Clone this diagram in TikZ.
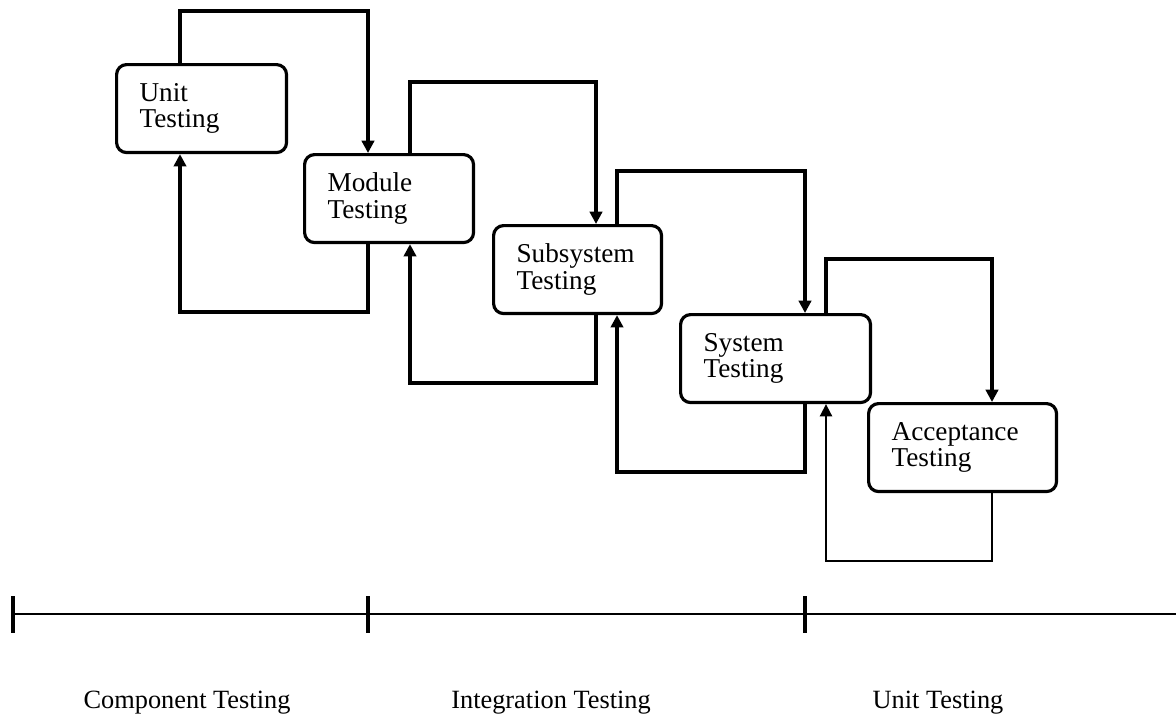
\documentclass[tikz,border=0pt]{standalone}
\usepackage{fontspec}
\setmainfont{Liberation Serif}
\usetikzlibrary{arrows.meta}

\begin{document}
\begin{tikzpicture}[x=0.02cm, y=-0.02cm,
	stage/.style={draw, line width=1.8pt, rounded corners=0.2cm, fill=white, anchor=north west, align=left, inner xsep=0.46cm, minimum height=1.76cm, font=\fontsize{15.5}{15}\selectfont},
	flow/.style={-{Triangle[length=7pt, width=7pt]}, line width=2pt},
	phase/.style={anchor=base, font=\fontsize{15}{15}\selectfont}]
\useasboundingbox (0,0) rectangle (1176,720);

\node[stage, text width=2.48cm] (unit) at (115,63) {Unit\\Testing};
\node[stage, text width=2.46cm] (module) at (303,153) {Module\\Testing};
\node[stage, text width=2.44cm] (subsys) at (492,224) {Subsystem\\Testing};
\node[stage, text width=2.88cm] (system) at (679,313) {System\\Testing};
\node[stage, text width=2.84cm] (accept) at (867,402) {Acceptance\\Testing};

\foreach \a/\b/\xa/\xb/\ytop/\ybot/\w in {unit/module/180/368/11/312/2pt, module/subsys/410/596/82/383/2pt, subsys/system/617/805/171/472/2pt, system/accept/826/992/259/561/1pt}
{
	\draw[flow] (\a.north -| \xa,0) -- (\xa,\ytop) -| (\b.north -| \xb,0);
	\draw[flow, line width=\w] (\b.south -| \xb,0) -- (\xb,\ybot) -| (\a.south -| \xa,0);
}

\draw[line width=1.3pt] (13,614) -- (1176,614);
\foreach \x in {13, 368, 805}
{
	\draw[line width=2.4pt] (\x,596) -- (\x,633);
}

\node[phase] (comp) at (187,708) {Component Testing};
\node[phase] (integ) at (551,708) {Integration Testing};
\node[phase] (unitph) at (938,708) {Unit Testing};
\end{tikzpicture}
\end{document}
